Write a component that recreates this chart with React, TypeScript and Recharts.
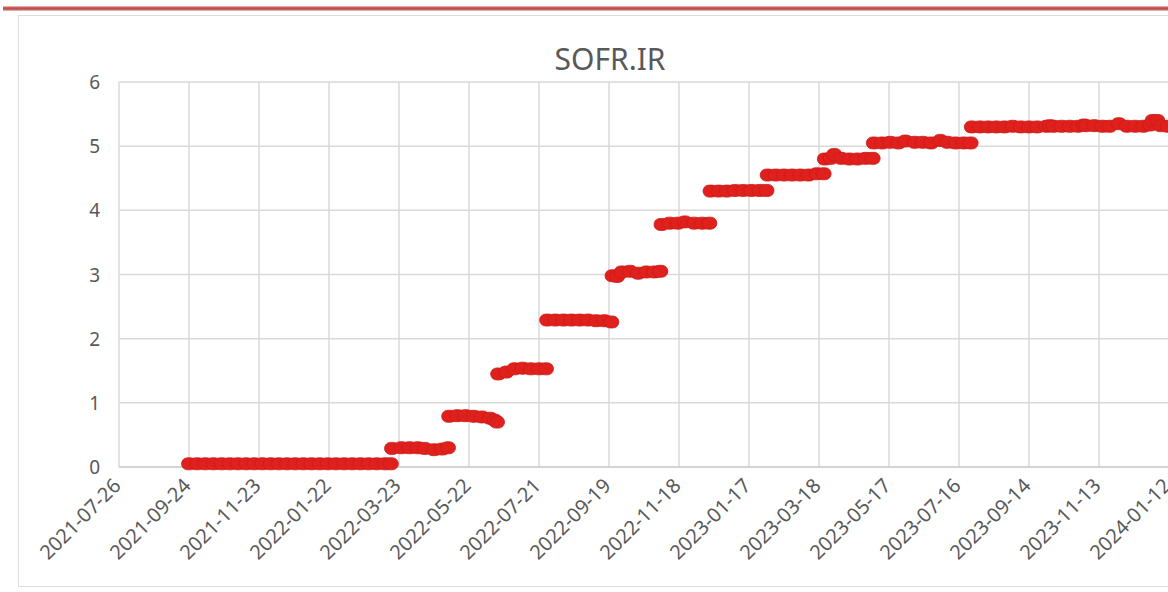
import React from "react";
import { ScatterChart, Scatter, XAxis, YAxis, CartesianGrid } from "recharts";

const tickDates = [
  "2021-07-26", "2021-09-24", "2021-11-23", "2022-01-22", "2022-03-23", "2022-05-22",
  "2022-07-21", "2022-09-19", "2022-11-18", "2023-01-17", "2023-03-18", "2023-05-17",
  "2023-07-16", "2023-09-14", "2023-11-13", "2024-01-12", "2024-03-12",
];
const yTicks = [0, 1, 2, 3, 4, 5, 6];

// SOFR fixings, roughly weekly, plus the day-before / day-after of each hike
const dates = [
  "2021-09-24", "2021-10-01", "2021-10-08", "2021-10-15", "2021-10-22", "2021-10-29",
  "2021-11-05", "2021-11-12", "2021-11-19", "2021-11-26", "2021-12-03", "2021-12-10",
  "2021-12-17", "2021-12-24", "2021-12-31", "2022-01-07", "2022-01-14", "2022-01-21",
  "2022-01-28", "2022-02-04", "2022-02-11", "2022-02-18", "2022-02-25", "2022-03-04",
  "2022-03-11", "2022-03-16",
  "2022-03-17", "2022-03-25", "2022-04-01", "2022-04-08", "2022-04-14", "2022-04-22",
  "2022-04-29", "2022-05-04",
  "2022-05-05", "2022-05-12", "2022-05-19", "2022-05-26", "2022-06-02", "2022-06-09",
  "2022-06-13", "2022-06-15",
  "2022-06-16", "2022-06-23", "2022-06-30", "2022-07-07", "2022-07-14", "2022-07-21",
  "2022-07-27",
  "2022-07-28", "2022-08-04", "2022-08-11", "2022-08-18", "2022-08-25", "2022-09-01",
  "2022-09-08", "2022-09-15", "2022-09-21",
  "2022-09-22", "2022-09-26", "2022-09-30", "2022-10-07", "2022-10-14", "2022-10-21",
  "2022-10-28", "2022-11-02",
  "2022-11-03", "2022-11-10", "2022-11-17", "2022-11-23", "2022-12-01", "2022-12-08",
  "2022-12-14",
  "2022-12-15", "2022-12-22", "2022-12-29", "2023-01-05", "2023-01-12", "2023-01-19",
  "2023-01-26", "2023-02-01",
  "2023-02-02", "2023-02-09", "2023-02-16", "2023-02-23", "2023-03-02", "2023-03-09",
  "2023-03-16", "2023-03-22",
  "2023-03-23", "2023-03-28", "2023-03-31", "2023-04-06", "2023-04-13", "2023-04-20",
  "2023-04-27", "2023-05-03",
  "2023-05-04", "2023-05-11", "2023-05-18", "2023-05-25", "2023-05-31", "2023-06-08",
  "2023-06-15", "2023-06-22", "2023-06-30", "2023-07-06", "2023-07-13", "2023-07-20",
  "2023-07-26",
  "2023-07-27", "2023-08-03", "2023-08-10", "2023-08-17", "2023-08-24", "2023-08-31",
  "2023-09-07", "2023-09-14", "2023-09-21", "2023-09-29", "2023-10-02", "2023-10-05",
  "2023-10-12", "2023-10-19", "2023-10-26", "2023-10-31", "2023-11-02", "2023-11-09",
  "2023-11-16", "2023-11-22", "2023-11-30", "2023-12-07", "2023-12-14", "2023-12-21",
  "2023-12-27", "2023-12-29", "2024-01-02", "2024-01-05", "2024-01-11", "2024-01-18",
];

const rates = [
  0.05, 0.05, 0.05, 0.05, 0.05, 0.05,
  0.05, 0.05, 0.05, 0.05, 0.05, 0.05,
  0.05, 0.05, 0.05, 0.05, 0.05, 0.05,
  0.05, 0.05, 0.05, 0.05, 0.05, 0.05,
  0.05, 0.05,
  0.29, 0.30, 0.30, 0.30, 0.29, 0.27,
  0.28, 0.30,
  0.79, 0.80, 0.80, 0.79, 0.78, 0.76,
  0.73, 0.70,
  1.45, 1.48, 1.53, 1.54, 1.53, 1.53,
  1.53,
  2.29, 2.29, 2.29, 2.29, 2.29, 2.29,
  2.28, 2.28, 2.26,
  2.98, 2.97, 3.04, 3.05, 3.02, 3.04,
  3.04, 3.05,
  3.78, 3.80, 3.80, 3.82, 3.80, 3.80,
  3.80,
  4.30, 4.30, 4.30, 4.31, 4.31, 4.31,
  4.31, 4.31,
  4.55, 4.55, 4.55, 4.55, 4.55, 4.55,
  4.57, 4.57,
  4.80, 4.81, 4.87, 4.81, 4.80, 4.80,
  4.81, 4.81,
  5.05, 5.05, 5.06, 5.05, 5.08, 5.06,
  5.06, 5.05, 5.09, 5.06, 5.05, 5.05,
  5.05,
  5.30, 5.30, 5.30, 5.30, 5.30, 5.31,
  5.30, 5.30, 5.30, 5.31, 5.32, 5.31,
  5.31, 5.31, 5.31, 5.33, 5.32, 5.32,
  5.31, 5.31, 5.35, 5.31, 5.31, 5.31,
  5.33, 5.40, 5.40, 5.32, 5.31, 5.31,
];

const data = dates.map((d, i) => ({ t: Date.parse(d), v: rates[i] }));
const xTicks = tickDates.map((d) => Date.parse(d));
const lastTick = xTicks[xTicks.length - 1];

const textColor = "#595959";
const font = "'Noto Sans', 'Open Sans', sans-serif";

const fmtDate = (t: number) => new Date(t).toISOString().slice(0, 10);

function DateTick({ x, y, payload }: any) {
  // the last tick only closes the axis; its label lies outside the visible crop
  if (payload.value === lastTick) return null;
  const ax = x + 3;
  const ay = y + 18;
  return (
    <text
      x={ax}
      y={ay}
      transform={`rotate(-45 ${ax} ${ay})`}
      textAnchor="end"
      fill={textColor}
      fontSize={20}
      fontFamily={font}
    >
      {fmtDate(payload.value)}
    </text>
  );
}

function RateTick({ y, payload }: any) {
  return (
    <text x={100} y={y + 7} textAnchor="end" fill={textColor} fontSize={19} fontFamily={font}>
      {payload.value}
    </text>
  );
}

function Dot({ cx, cy }: any) {
  return <rect x={cx - 7.5} y={cy - 6} width={15} height={12} rx={6} fill="#e0201c" stroke="#cc1a18" strokeWidth={0.8} />;
}

export default function App() {
  return (
    <div style={{ position: "fixed", left: 0, top: 0, width: 1168, height: 592, overflow: "hidden", background: "#fff" }}>
      <div
        style={{
          position: "absolute", left: 3, top: 6, width: 1170, height: 5,
          background: "linear-gradient(#f4cfcb 0%, #c0504d 35%, #b8534f 65%, #f4cfcb 100%)",
        }}
      />
      <div
        style={{
          position: "absolute", left: 18, top: 15, width: 1200, height: 572,
          border: "1px solid #dcdcdc", boxSizing: "border-box",
        }}
      />
      <div
        style={{
          position: "absolute", left: 410, width: 400, top: 44, textAlign: "center",
          fontFamily: font, fontSize: 30, lineHeight: "30px", color: textColor,
        }}
      >
        SOFR.IR
      </div>
      <ScatterChart
        width={1260}
        height={592}
        margin={{ top: 82, right: 21, bottom: 0, left: 0 }}
        style={{ position: "absolute", left: 0, top: 0 }}
      >
        <CartesianGrid stroke="#d9d9d9" strokeWidth={1.5} />
        <XAxis
          type="number"
          dataKey="t"
          domain={[xTicks[0], lastTick]}
          ticks={xTicks}
          interval={0}
          height={125}
          tickLine={false}
          tickSize={0}
          axisLine={{ stroke: "#cfcfcf", strokeWidth: 1.5 }}
          tick={<DateTick />}
        />
        <YAxis
          type="number"
          dataKey="v"
          domain={[0, 6]}
          ticks={yTicks}
          width={119}
          axisLine={false}
          tickLine={false}
          tick={<RateTick />}
        />
        <Scatter data={data} shape={<Dot />} isAnimationActive={false} />
      </ScatterChart>
    </div>
  );
}
